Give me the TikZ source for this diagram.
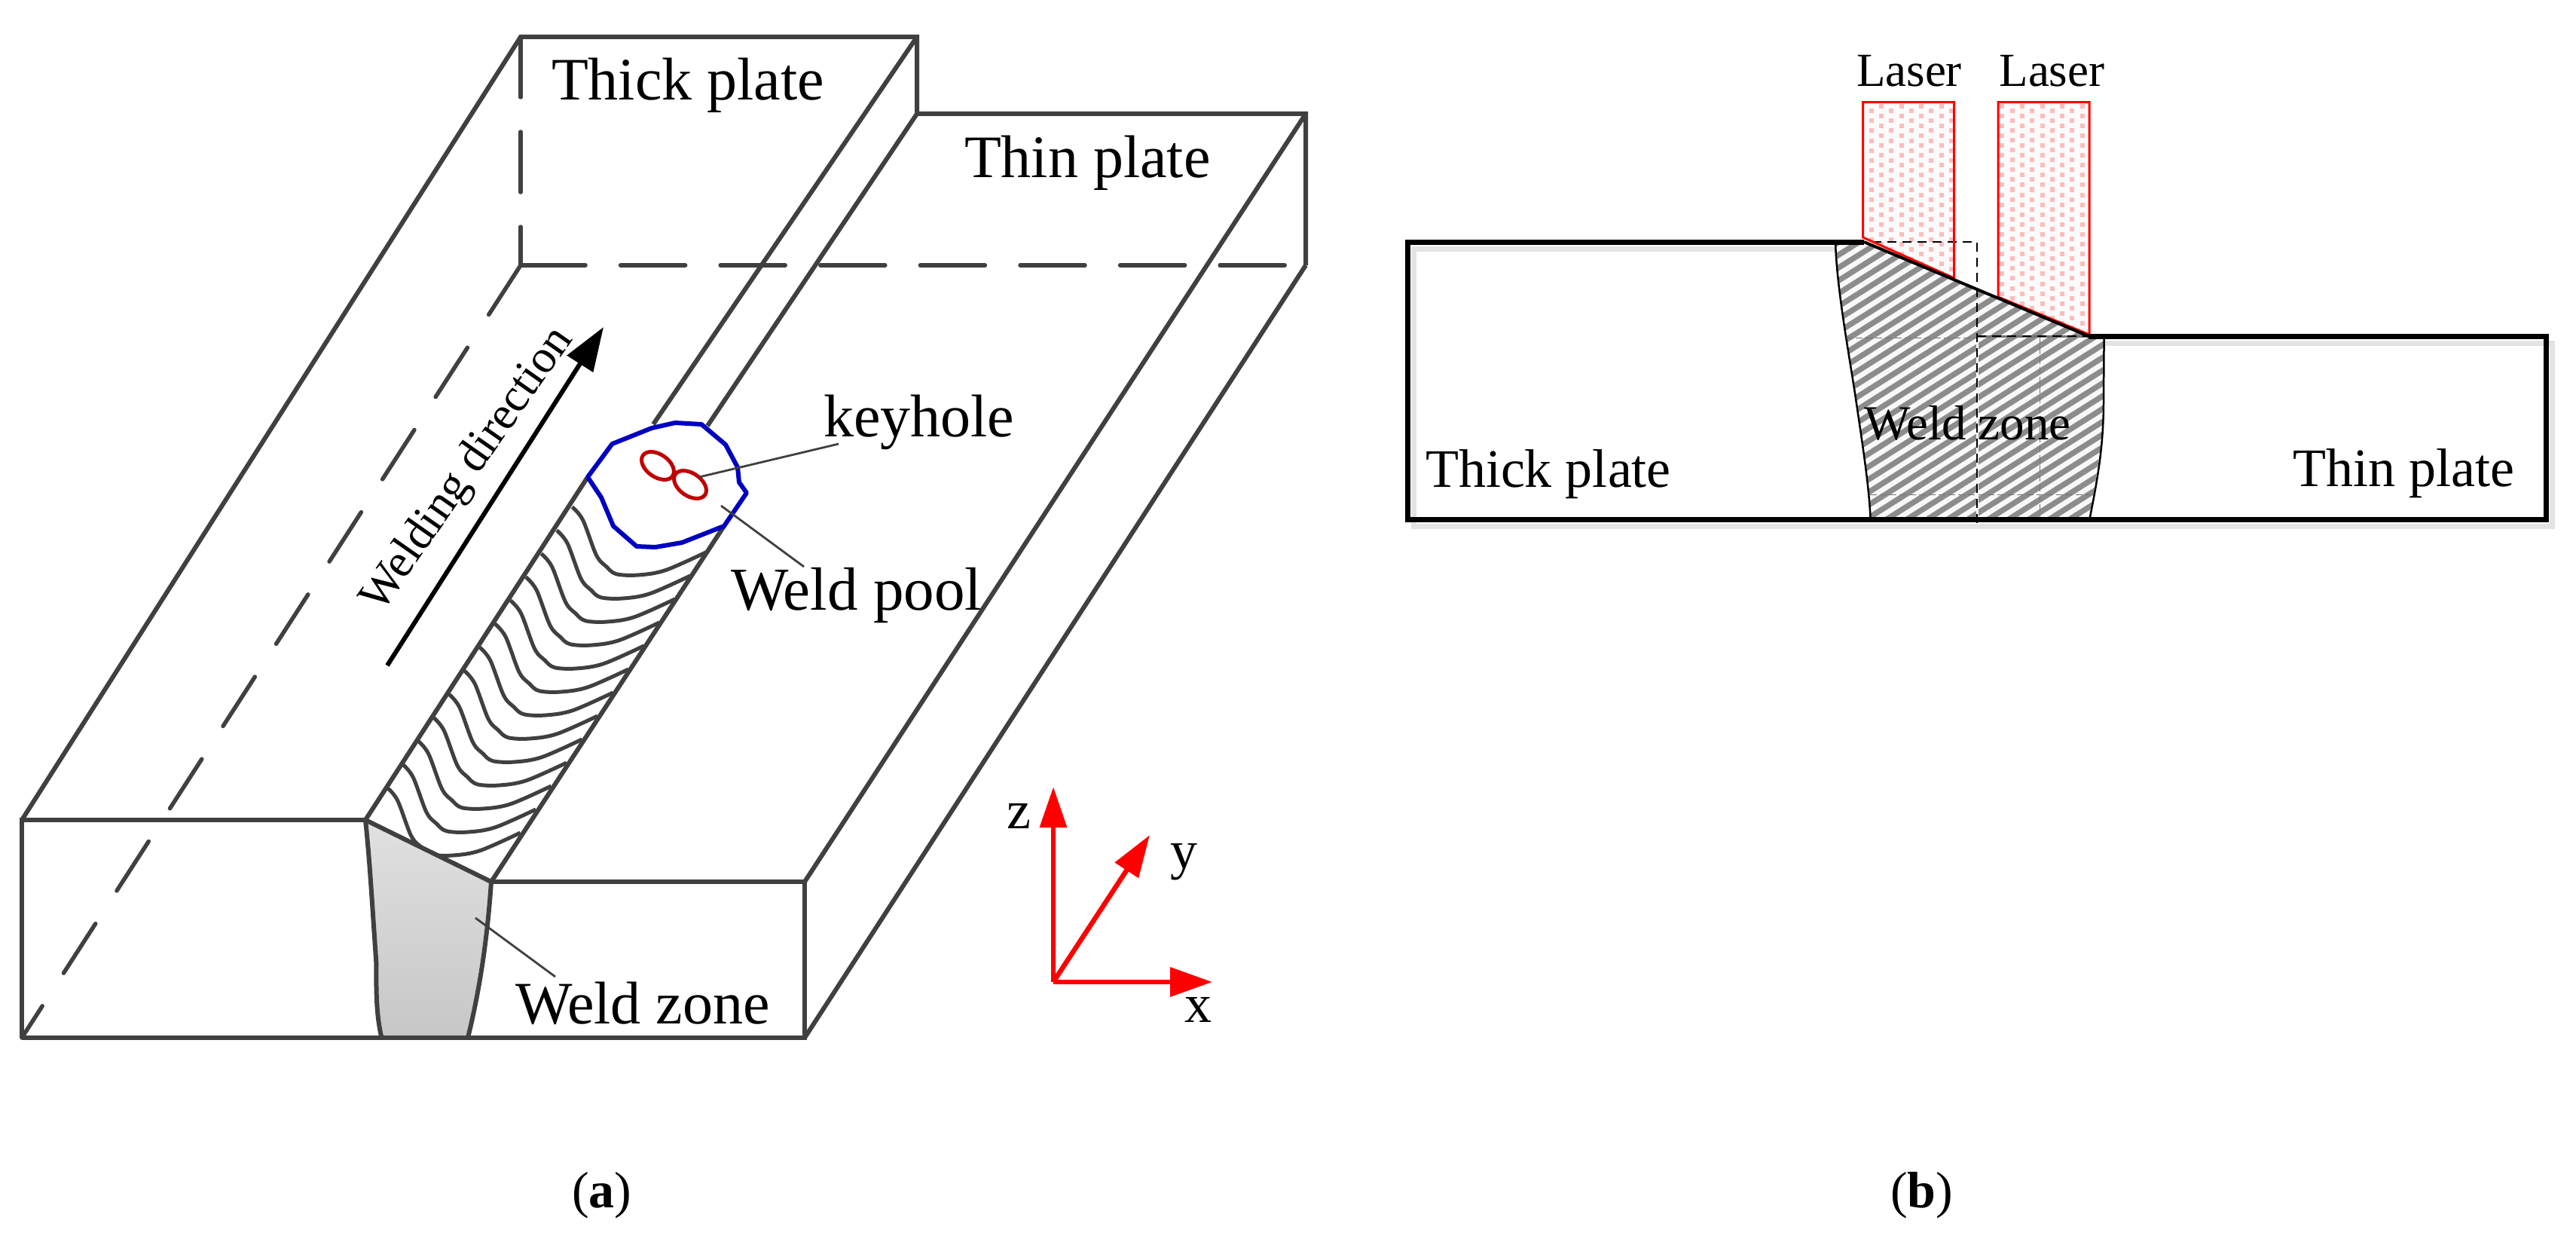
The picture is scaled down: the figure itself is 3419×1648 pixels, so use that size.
\documentclass[tikz,border=0pt]{standalone}
\usepackage{fontspec}
\setmainfont{Liberation Serif}
\usetikzlibrary{arrows.meta}
\newcommand{\fs}[1]{\fontsize{#1pt}{#1pt}\selectfont}
\newcommand{\ripple}{plot[smooth,tension=.55] coordinates {(759.4,672.7) (773.6,690) (791.5,736.7) (805,752) (818,761.7) (847,763) (883,756.7) (936.6,733)}}
\tikzset{
  edge3d/.style={draw=edgegray,line width=6pt,line join=miter},
  dash3d/.style={draw=edgegray,line width=5.5pt,line cap=round},
  rippleline/.style={draw=edgegray,line width=5pt},
  leader/.style={draw=edgegray,line width=2.8pt},
  lbl/.style={anchor=base west,inner sep=0pt,outer sep=0pt,text=black},
  axisarrow/.style={draw=red,line width=6.5pt},
  beam/.style={draw=red,line width=3pt,line join=miter},
  dotmark/.style={fill=pinkdot},
  platebox/.style={draw=black,line width=7pt,line join=miter},
  thindash/.style={draw=black!55,line width=.7pt,dash pattern=on 9pt off 4pt},
  thickdash/.style={draw=black,line width=2.6pt,dash pattern=on 12pt off 8pt}
}
\definecolor{edgegray}{HTML}{404040}
\definecolor{pinkdot}{HTML}{FFBCBC}
\definecolor{beambg}{HTML}{FBFBFB}
\definecolor{stripe}{HTML}{8C8C8C}
\definecolor{stripebg}{HTML}{F8F8F8}
\definecolor{shadowgray}{HTML}{E3E3E3}
\definecolor{poolblue}{HTML}{0000C0}
\definecolor{holered}{HTML}{C00000}
\begin{document}
\begin{tikzpicture}[x=1pt,y=-1pt]
\useasboundingbox (0,0) rectangle (3419,1648);
\fill[white] (0,0) rectangle (3419,1648);
% ---------- (a) corners
\coordinate (A) at (691,49);
\coordinate (A2) at (691,352);
\coordinate (B) at (1217,49);
\coordinate (C) at (1217,151);
\coordinate (D) at (1733,151);
\coordinate (E) at (1733,352);
\coordinate (F) at (29,1088);
\coordinate (G) at (485,1088);
\coordinate (H) at (652,1170);
\coordinate (I) at (1068,1170);
\coordinate (J) at (1068,1377);
\coordinate (K) at (29,1377);
\coordinate (P1) at (780,633);
\coordinate (P2) at (961,698);
\coordinate (P3) at (867,563);
\coordinate (P4) at (939,565);
% weld zone
\shade[top color=black!12,bottom color=black!22]
  (G) -- (H) -- (645,1228) -- (631,1319) -- (621,1375) -- (506.5,1376) -- (499.5,1343) -- (499.5,1279) -- (494.6,1202) -- (491,1144) -- cycle;
\draw[edge3d] (G) .. controls (491,1144) and (494,1202) .. (499.5,1279) .. controls (499,1320) and (500,1350) .. (506.5,1377);
\draw[edge3d] (H) .. controls (648,1228) and (640,1300) .. (621,1377);
% plates
\draw[edge3d] (K) -- (J) -- (I) -- (H);
\draw[edge3d] (G) -- (H);
\draw[edge3d] (K) -- (F) -- (G);
\draw[edge3d] (F) -- (A) -- (B) -- (C) -- (D) -- (E);
\draw[edge3d] (J) -- (E);
\draw[edge3d] (I) -- (D);
\draw[edge3d] (B) -- (P3);
\draw[edge3d] (C) -- (P4);
\draw[edge3d] (G) -- (P1);
\draw[edge3d] (H) -- (P2);
% dashed hidden edges
\draw[dash3d,dash pattern=on 78pt off 52pt] (A2) -- (K);
\draw[dash3d,dash pattern=on 80pt off 46pt] (A) -- (A2);
\draw[dash3d,dash pattern=on 86pt off 46.6pt] (A2) -- (E);
% ripples
\begin{scope}
\clip (G) -- (P1) -- (1000,640) -- (P2) -- (H) -- cycle;
\foreach \i in {0,...,12}{
  \draw[rippleline,shift={({-20.5*\i},{31*\i})}] \ripple;
}
\end{scope}
% weld pool
\draw[draw=poolblue,line width=6pt,line join=round,fill=white] (P1) -- (812.5,589) -- (865,568) -- (896,561) -- (931,563) -- (963,590) -- (979,620) -- (981,640) -- (991,654) -- (961,698) -- (905,720) -- (870,726) -- (845,725) -- (814,698) -- (798,660) -- cycle;
\draw[holered,line width=5pt,rotate around={-35:(873,618)}] (873,618) ellipse (24pt and 15pt);
\draw[holered,line width=5pt,rotate around={-35:(916,643)}] (916,643) ellipse (24pt and 15pt);
\coordinate (keyA) at (928,633);
\coordinate (keyB) at (1113,589);
\draw[leader] (keyA) -- (keyB);
\coordinate (poolA) at (957,671);
\coordinate (poolB) at (1067,752);
\draw[leader] (poolA) -- (poolB);
\coordinate (zoneA) at (631,1218);
\coordinate (zoneB) at (737,1296);
\draw[leader] (zoneA) -- (zoneB);
% welding direction
\coordinate (wdA) at (514,883);
\coordinate (wdB) at (801,434);
\draw[black,line width=6pt,-{Triangle[length=58pt,width=40pt]}] (wdA) -- (wdB);
\node[lbl,font=\fs{62},rotate=55] (wdtext) at (506,814) {Welding direction};
% axes
\coordinate (O) at (1398,1303);
\coordinate (Zt) at (1398,1044);
\coordinate (Yt) at (1526,1108);
\coordinate (Xt) at (1609,1303);
\draw[axisarrow,-{Triangle[length=54pt,width=35pt]}] (O) -- (Zt);
\draw[axisarrow,-{Triangle[length=56pt,width=36pt]}] (O) -- (Yt);
\draw[axisarrow,-{Triangle[length=56pt,width=38pt]}] (O) -- (Xt);
\node[lbl,font=\fs{72}] (zl) at (1336,1099) {z};
\node[lbl,font=\fs{72}] (yl) at (1553,1152) {y};
\node[lbl,font=\fs{72}] (xl) at (1572,1356) {x};
% labels a
\node[lbl,font=\fs{80}] (ta) at (732,133) {Thick plate};
\node[lbl,font=\fs{80}] (tb) at (1280,236) {Thin plate};
\node[lbl,font=\fs{80}] (kh) at (1093,579) {keyhole};
\node[lbl,font=\fs{81}] (wp) at (970,809) {Weld pool};
\node[lbl,font=\fs{80}] (wz) at (684,1358) {Weld zone};
\node[lbl,font=\fs{68}] (capa) at (759,1602) {(\textbf{a})};
% ---------- (b)
\coordinate (a1) at (1868,321);
\coordinate (a2) at (2474,321);
\coordinate (a3) at (2772,446);
\coordinate (a4) at (3379,446);
\coordinate (a5) at (3379,689);
\coordinate (a6) at (1868,689);
% shadow
\begin{scope}[transform canvas={xshift=8pt,yshift=-9pt}]
\draw[shadowgray,line width=7pt,line join=miter] (a2) -- (a1) -- (a6) -- (a5) -- (a4) -- (a3);
\end{scope}
% laser beams
\path[fill=beambg] (2472.6,135.6) -- (2593.5,135.6) -- (2593.5,369) -- (2472.6,315) -- cycle;
\begin{scope}
\clip (2472.6,135.6) -- (2593.5,135.6) -- (2593.5,369) -- (2472.6,315) -- cycle;
\foreach \k in {0,...,9}{
  \pgfmathsetmacro{\cx}{2576.7+13.3-13.3*\k}
  \pgfmathsetmacro{\cy}{(mod(\k,2)==0)?147.3:140.7}
  \foreach \r in {0,...,18}{
    \fill[dotmark] ({\cx-3},{\cy+13.1*\r-3}) rectangle ({\cx+3},{\cy+13.1*\r+3});
  }
}
\end{scope}
\path[fill=beambg] (2652,135.6) -- (2773,135.6) -- (2773,444) -- (2652,394) -- cycle;
\begin{scope}
\clip (2652,135.6) -- (2773,135.6) -- (2773,444) -- (2652,394) -- cycle;
\foreach \k in {0,...,9}{
  \pgfmathsetmacro{\cx}{2644+13.3*\k}
  \pgfmathsetmacro{\cy}{(mod(\k,2)==0)?146.7:140.7}
  \foreach \r in {0,...,24}{
    \fill[dotmark] ({\cx-3},{\cy+13.1*\r-3}) rectangle ({\cx+3},{\cy+13.1*\r+3});
  }
}
\end{scope}
% hatched weld zone
\begin{scope}
\clip (2436,321) -- (a2) -- (a3) -- (2792.6,448) -- (2790,581) -- (2774,686) -- (2482.5,686) -- (2474,598) -- (2462,522) -- (2450,446) -- (2438,362) -- cycle;
\fill[stripebg] (2420,300) rectangle (2810,700);
\foreach \n in {0,...,56}{
  \draw[stripe,line width=7.4pt] (2420,{300+17*\n}) -- (2820,{300+17*\n-252});
}
\end{scope}
\draw[black,line width=2.5pt] (2436,321) .. controls (2438,380) and (2450,446) .. (2462,522) .. controls (2472,590) and (2480,640) .. (2482.5,686);
\draw[black,line width=2.5pt] (2792.6,448) -- (2792,530) .. controls (2792,590) and (2785,630) .. (2774,686);
% dashed construction lines
\draw[thindash] (2450,448) -- (2624,448);
\draw[thindash] (2482,656) -- (2774,656);
\draw[thindash] (2707,448) -- (2707,686);
\draw[stripebg,line width=3pt] (2624,446) -- (2624,686);
\draw[draw=black!55,line width=3pt] (2624,446) -- (2772,446);
\draw[thickdash] (2485,321) -- (2624,321) -- (2624,700);
\draw[thickdash] (2624,446) -- (2772,446);
% beam outlines
\draw[beam] (2472.6,315) -- (2472.6,135.6) -- (2593.5,135.6) -- (2593.5,369) -- cycle;
\draw[beam] (2652,394) -- (2652,135.6) -- (2773,135.6) -- (2773,444) -- cycle;
% plate outline
\draw[platebox] (a2) -- (a1) -- (a6) -- (a5) -- (a4) -- (a3);
\draw[black,line width=4pt] (a2) -- (a3);
% labels b
\node[lbl,font=\fs{63}] (l1) at (2464,115) {Laser};
\node[lbl,font=\fs{63}] (l2) at (2653.5,115) {Laser};
\node[lbl,font=\fs{65}] (wz2) at (2474,583) {Weld zone};
\node[lbl,font=\fs{72}] (tk2) at (1892,646) {Thick plate};
\node[lbl,font=\fs{72}] (tn2) at (3043,645) {Thin plate};
\node[lbl,font=\fs{68}] (capb) at (2509,1602) {(\textbf{b})};
\end{tikzpicture}
\end{document}
